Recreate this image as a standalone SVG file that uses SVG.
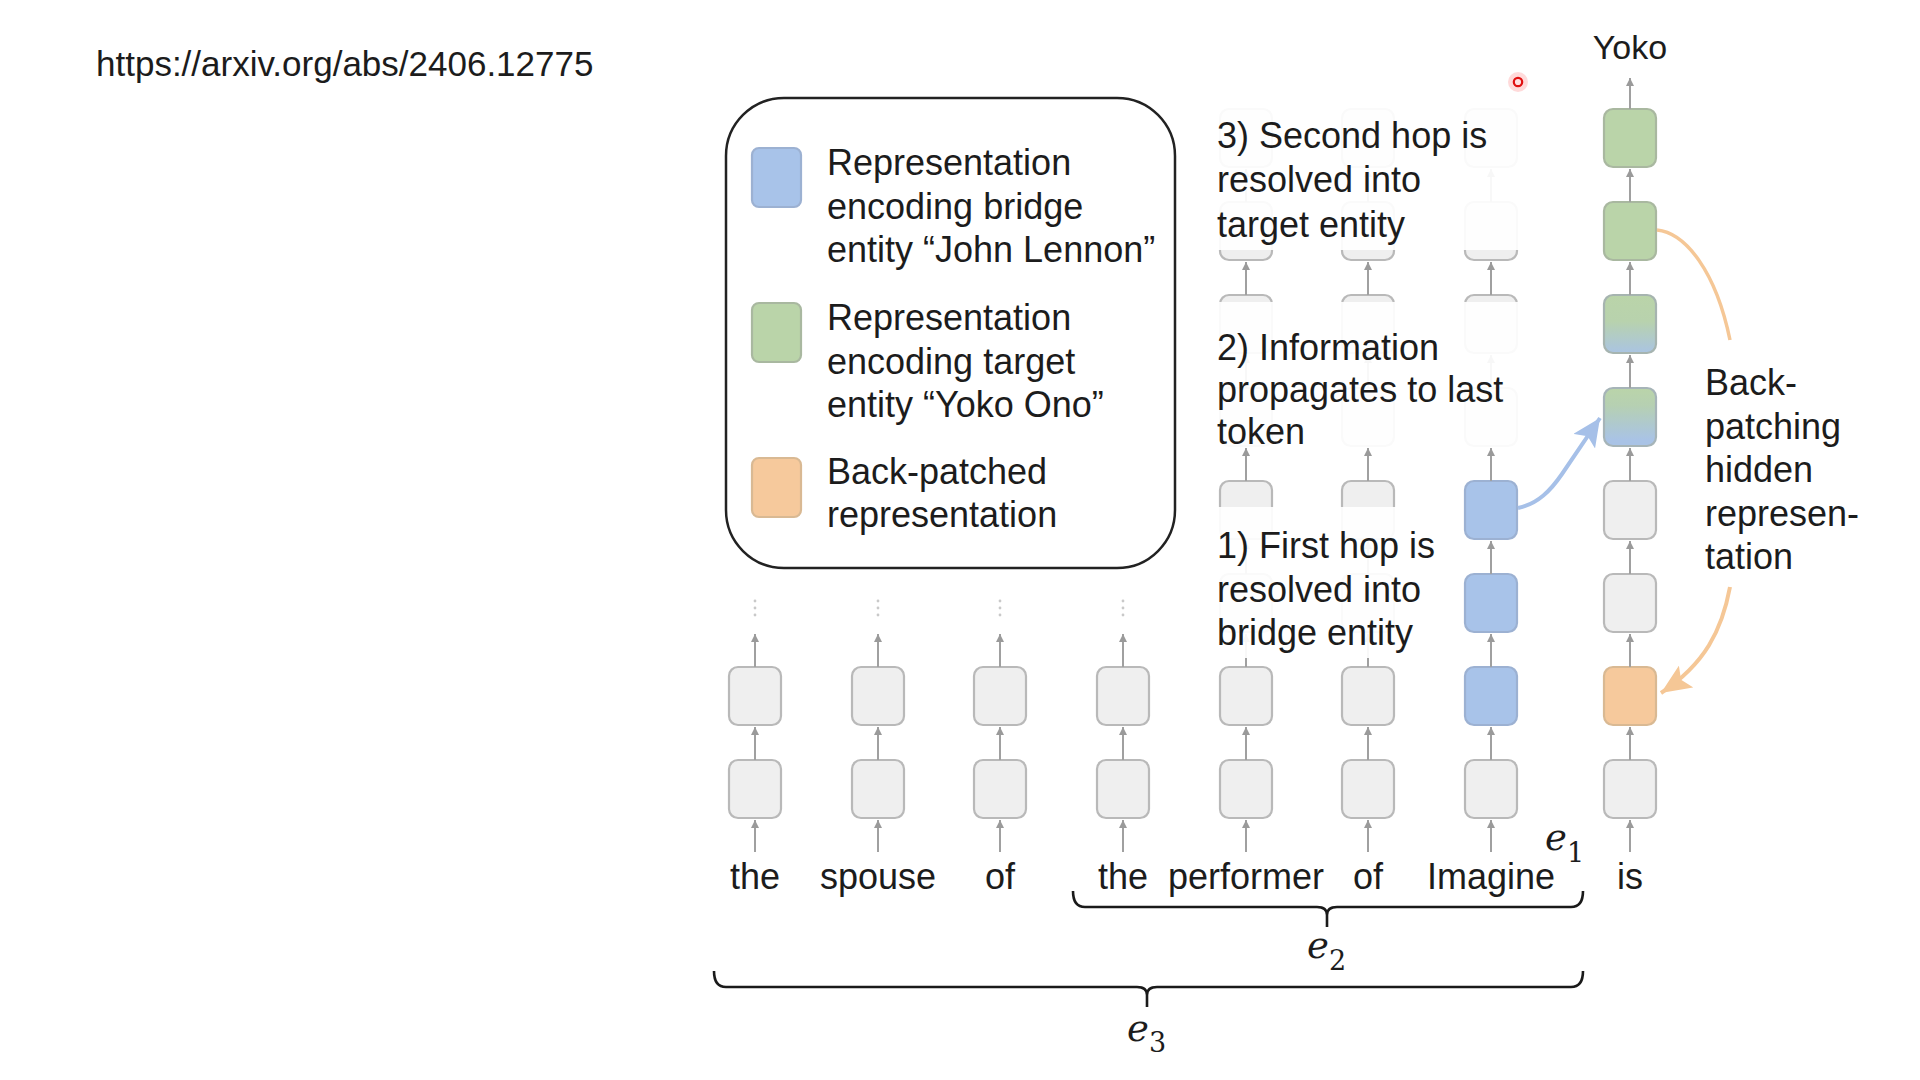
<svg xmlns="http://www.w3.org/2000/svg" width="1920" height="1080" viewBox="0 0 1920 1080">
<style>
text{font-family:"Liberation Sans",Arial,sans-serif;fill:#1c1c1c}
.t{font-size:36px}
.w{font-size:36px;text-anchor:middle}
.m{font-family:"DejaVu Serif","Liberation Serif",serif;font-style:italic;font-size:37px}
.s{font-family:"DejaVu Serif","Liberation Serif",serif;font-size:27px}
.b{fill:#efefef;stroke:#b9b9b9;stroke-width:2.2}
.bl{fill:#a8c3e9;stroke:#9cb1d2;stroke-width:2.2}
.gr{fill:#bad4a9;stroke:#a9b8a0;stroke-width:2.2}
.or{fill:#f6c99c;stroke:#d9b993;stroke-width:2.2}
.g1{fill:url(#grad1);stroke:#a6b4b0;stroke-width:2.2}
.g2{fill:url(#grad2);stroke:#a6b4b8;stroke-width:2.2}
.a line{stroke:#a0a0a0;stroke-width:2;marker-end:url(#ah)}
.dot{fill:#c9c9c9}
.veil{fill:#fff;fill-opacity:.92}
.br{fill:none;stroke:#1a1a1a;stroke-width:2.6;stroke-linejoin:round}
</style>
<defs>
<marker id="ah" markerUnits="userSpaceOnUse" markerWidth="9" markerHeight="9" refX="8" refY="4.5" orient="auto">
<path d="M0,0.5 L8,4.5 L0,8.5 z" fill="#9a9a9a"/>
</marker>
<marker id="ahb" markerUnits="userSpaceOnUse" markerWidth="30" markerHeight="26" refX="28" refY="13" orient="auto">
<path d="M0,0 L28,13 L0,26 L6,13 z" fill="#a6c0e8"/>
</marker>
<marker id="aho" markerUnits="userSpaceOnUse" markerWidth="32" markerHeight="26" refX="30" refY="13" orient="auto">
<path d="M0,0 L30,13 L0,26 L6,13 z" fill="#f5c796"/>
</marker>
<linearGradient id="grad1" x1="0" y1="0" x2="0" y2="1">
<stop offset="0" stop-color="#bad4a9"/><stop offset="0.45" stop-color="#b8d2ad"/><stop offset="1" stop-color="#aac4e2"/>
</linearGradient>
<linearGradient id="grad2" x1="0" y1="0" x2="0" y2="1">
<stop offset="0" stop-color="#bad4a9"/><stop offset="0.3" stop-color="#b6d0b2"/><stop offset="0.9" stop-color="#a9c3e6"/>
</linearGradient>
</defs>
<rect width="1920" height="1080" fill="#fff"/>

<text x="96" y="76" style="font-size:35px">https://arxiv.org/abs/2406.12775</text>

<g id="legend">
<rect x="726" y="98" width="449" height="470" rx="58" fill="#fff" stroke="#222" stroke-width="2.5"/>
<rect x="752" y="148" width="49" height="59" rx="7" class="bl"/>
<rect x="752" y="303" width="49" height="59" rx="7" class="gr"/>
<rect x="752" y="458" width="49" height="59" rx="7" class="or"/>
<text class="t" x="827" y="175">Representation</text>
<text class="t" x="827" y="218.5">encoding bridge</text>
<text class="t" x="827" y="262">entity “John Lennon”</text>
<text class="t" x="827" y="330">Representation</text>
<text class="t" x="827" y="373.5">encoding target</text>
<text class="t" x="827" y="417">entity “Yoko Ono”</text>
<text class="t" x="827" y="484">Back-patched</text>
<text class="t" x="827" y="527">representation</text>
</g>

<g id="nodes">
<g id="the1"><rect x="729" y="760" width="52" height="58" rx="9" class="b"/><rect x="729" y="667" width="52" height="58" rx="9" class="b"/></g>
<g id="spouse"><rect x="852" y="760" width="52" height="58" rx="9" class="b"/><rect x="852" y="667" width="52" height="58" rx="9" class="b"/></g>
<g id="of1"><rect x="974" y="760" width="52" height="58" rx="9" class="b"/><rect x="974" y="667" width="52" height="58" rx="9" class="b"/></g>
<g id="the2"><rect x="1097" y="760" width="52" height="58" rx="9" class="b"/><rect x="1097" y="667" width="52" height="58" rx="9" class="b"/></g>
<g id="performer">
<rect x="1220" y="760" width="52" height="58" rx="9" class="b"/><rect x="1220" y="667" width="52" height="58" rx="9" class="b"/>
<rect x="1220" y="574" width="52" height="58" rx="9" class="b"/><rect x="1220" y="481" width="52" height="58" rx="9" class="b"/>
<rect x="1220" y="388" width="52" height="58" rx="9" class="b"/><rect x="1220" y="295" width="52" height="58" rx="9" class="b"/>
<rect x="1220" y="202" width="52" height="58" rx="9" class="b"/><rect x="1220" y="109" width="52" height="58" rx="9" class="b"/>
</g>
<g id="of2">
<rect x="1342" y="760" width="52" height="58" rx="9" class="b"/><rect x="1342" y="667" width="52" height="58" rx="9" class="b"/>
<rect x="1342" y="574" width="52" height="58" rx="9" class="b"/><rect x="1342" y="481" width="52" height="58" rx="9" class="b"/>
<rect x="1342" y="388" width="52" height="58" rx="9" class="b"/><rect x="1342" y="295" width="52" height="58" rx="9" class="b"/>
<rect x="1342" y="202" width="52" height="58" rx="9" class="b"/><rect x="1342" y="109" width="52" height="58" rx="9" class="b"/>
</g>
<g id="imagine">
<rect x="1465" y="760" width="52" height="58" rx="9" class="b"/><rect x="1465" y="667" width="52" height="58" rx="9" class="bl"/>
<rect x="1465" y="574" width="52" height="58" rx="9" class="bl"/><rect x="1465" y="481" width="52" height="58" rx="9" class="bl"/>
<rect x="1465" y="388" width="52" height="58" rx="9" class="b"/><rect x="1465" y="295" width="52" height="58" rx="9" class="b"/>
<rect x="1465" y="202" width="52" height="58" rx="9" class="b"/><rect x="1465" y="109" width="52" height="58" rx="9" class="b"/>
</g>
<g id="is">
<rect x="1604" y="760" width="52" height="58" rx="9" class="b"/><rect x="1604" y="667" width="52" height="58" rx="9" class="or"/>
<rect x="1604" y="574" width="52" height="58" rx="9" class="b"/><rect x="1604" y="481" width="52" height="58" rx="9" class="b"/>
<rect x="1604" y="388" width="52" height="58" rx="9" class="g2"/><rect x="1604" y="295" width="52" height="58" rx="9" class="g1"/>
<rect x="1604" y="202" width="52" height="58" rx="9" class="gr"/><rect x="1604" y="109" width="52" height="58" rx="9" class="gr"/>
</g>
</g>

<g id="connectors">
<g class="a">
<line x1="755" y1="852" x2="755" y2="820"/><line x1="755" y1="760" x2="755" y2="727"/><line x1="755" y1="667" x2="755" y2="634"/>
<line x1="878" y1="852" x2="878" y2="820"/><line x1="878" y1="760" x2="878" y2="727"/><line x1="878" y1="667" x2="878" y2="634"/>
<line x1="1000" y1="852" x2="1000" y2="820"/><line x1="1000" y1="760" x2="1000" y2="727"/><line x1="1000" y1="667" x2="1000" y2="634"/>
<line x1="1123" y1="852" x2="1123" y2="820"/><line x1="1123" y1="760" x2="1123" y2="727"/><line x1="1123" y1="667" x2="1123" y2="634"/>

<line x1="1246" y1="852" x2="1246" y2="820"/><line x1="1246" y1="760" x2="1246" y2="727"/><line x1="1246" y1="667" x2="1246" y2="634"/>
<line x1="1246" y1="574" x2="1246" y2="541"/><line x1="1246" y1="481" x2="1246" y2="448"/><line x1="1246" y1="388" x2="1246" y2="355"/>
<line x1="1246" y1="295" x2="1246" y2="262"/><line x1="1246" y1="202" x2="1246" y2="169"/>

<line x1="1368" y1="852" x2="1368" y2="820"/><line x1="1368" y1="760" x2="1368" y2="727"/><line x1="1368" y1="667" x2="1368" y2="634"/>
<line x1="1368" y1="574" x2="1368" y2="541"/><line x1="1368" y1="481" x2="1368" y2="448"/><line x1="1368" y1="388" x2="1368" y2="355"/>
<line x1="1368" y1="295" x2="1368" y2="262"/><line x1="1368" y1="202" x2="1368" y2="169"/>

<line x1="1491" y1="852" x2="1491" y2="820"/><line x1="1491" y1="760" x2="1491" y2="727"/><line x1="1491" y1="667" x2="1491" y2="634"/>
<line x1="1491" y1="574" x2="1491" y2="541"/><line x1="1491" y1="481" x2="1491" y2="448"/><line x1="1491" y1="388" x2="1491" y2="355"/>
<line x1="1491" y1="295" x2="1491" y2="262"/><line x1="1491" y1="202" x2="1491" y2="169"/>

<line x1="1630" y1="852" x2="1630" y2="820"/><line x1="1630" y1="760" x2="1630" y2="727"/><line x1="1630" y1="667" x2="1630" y2="634"/>
<line x1="1630" y1="574" x2="1630" y2="541"/><line x1="1630" y1="481" x2="1630" y2="448"/><line x1="1630" y1="388" x2="1630" y2="355"/>
<line x1="1630" y1="295" x2="1630" y2="262"/><line x1="1630" y1="202" x2="1630" y2="169"/><line x1="1630" y1="109" x2="1630" y2="78"/>
</g>
<g class="dot">
<circle cx="755" cy="601" r="1.4"/><circle cx="755" cy="608" r="1.4"/><circle cx="755" cy="615" r="1.4"/>
<circle cx="878" cy="601" r="1.4"/><circle cx="878" cy="608" r="1.4"/><circle cx="878" cy="615" r="1.4"/>
<circle cx="1000" cy="601" r="1.4"/><circle cx="1000" cy="608" r="1.4"/><circle cx="1000" cy="615" r="1.4"/>
<circle cx="1123" cy="601" r="1.4"/><circle cx="1123" cy="608" r="1.4"/><circle cx="1123" cy="615" r="1.4"/>
</g>
<path d="M1518,508 C1538,504 1551,490 1562,474 L1600,418" fill="none" stroke="#a6c0e8" stroke-width="4" marker-end="url(#ahb)"/>
<path d="M1657,230 C1686,233 1716,272 1730,340" fill="none" stroke="#f5c796" stroke-width="3.5"/>
<path d="M1730,587 C1722,630 1705,664 1661,693" fill="none" stroke="#f5c796" stroke-width="4" marker-end="url(#aho)"/>
</g>

<g id="veils">
<rect class="veil" x="1205" y="95" width="325" height="155"/>
<rect class="veil" x="1205" y="302" width="325" height="146"/>
<rect class="veil" x="1205" y="507" width="235" height="151"/>
</g>

<g id="labels">
<text class="t" x="1217" y="148">3) Second hop is</text>
<text class="t" x="1217" y="192">resolved into</text>
<text class="t" x="1217" y="237">target entity</text>
<text class="t" x="1217" y="360">2) Information</text>
<text class="t" x="1217" y="402">propagates to last</text>
<text class="t" x="1217" y="444">token</text>
<text class="t" x="1217" y="558">1) First hop is</text>
<text class="t" x="1217" y="602">resolved into</text>
<text class="t" x="1217" y="645">bridge entity</text>
<text class="t" x="1705" y="395">Back-</text>
<text class="t" x="1705" y="438.5">patching</text>
<text class="t" x="1705" y="482">hidden</text>
<text class="t" x="1705" y="525.5">represen-</text>
<text class="t" x="1705" y="569">tation</text>
<text x="1630" y="59" style="font-size:34px;text-anchor:middle">Yoko</text>
</g>

<g id="tokens">
<text class="w" x="755" y="889">the</text>
<text class="w" x="878" y="889">spouse</text>
<text class="w" x="1000" y="889">of</text>
<text class="w" x="1123" y="889">the</text>
<text class="w" x="1246" y="889">performer</text>
<text class="w" x="1368" y="889">of</text>
<text class="w" x="1491" y="889">Imagine</text>
<text class="w" x="1630" y="889">is</text>
</g>

<g id="brackets">
<path class="br" d="M1073,891 Q1073,907 1085,907 L1317,907 Q1327,907 1327,915 L1327,927 M1327,915 Q1327,907 1337,907 L1571,907 Q1583,907 1583,891"/>
<path class="br" d="M714,971 Q714,987 726,987 L1137,987 Q1147,987 1147,995 L1147,1007 M1147,995 Q1147,987 1157,987 L1571,987 Q1583,987 1583,971"/>
<text class="m" x="1545" y="850">e</text><text class="s" x="1567" y="862">1</text>
<text class="m" x="1307" y="958">e</text><text class="s" x="1329" y="970">2</text>
<text class="m" x="1127" y="1041">e</text><text class="s" x="1149" y="1052">3</text>
</g>

<g id="pointer">
<circle cx="1518" cy="82" r="10" fill="#ff3030" fill-opacity="0.18"/>
<circle cx="1518" cy="82" r="4.2" fill="#ffe0e0" stroke="#e01010" stroke-width="2.2"/>
</g>
</svg>
